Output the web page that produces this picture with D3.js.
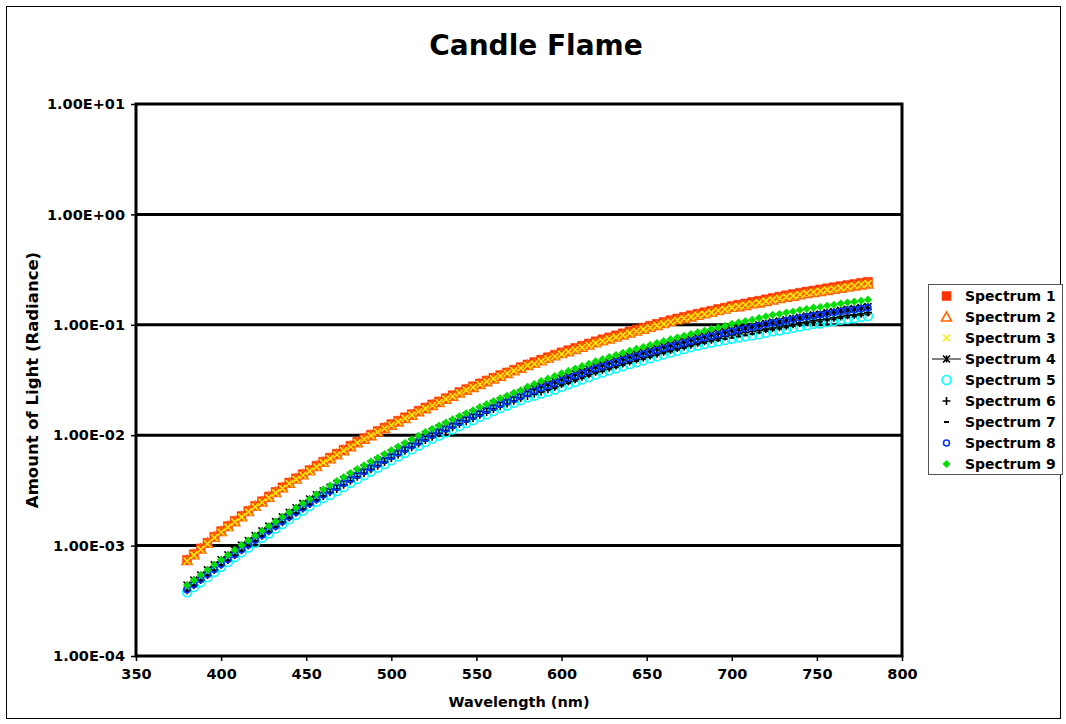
<!DOCTYPE html>
<html>
<head>
<meta charset="utf-8">
<script src="https://cdn.jsdelivr.net/npm/d3@7"></script>
<style>
  html, body { margin: 0; padding: 0; background: #fff; }
  svg { display: block; }
  text { font-family: "DejaVu Sans", Verdana, sans-serif; font-weight: bold; fill: #000; }
</style>
</head>
<body>
<svg id="chart" width="1066" height="724"></svg>
<script>
// ---------------- DATA ----------------
const title = "Candle Flame";
const xTitle = "Wavelength (nm)";
const yTitle = "Amount of Light (Radiance)";

const wavelengths = [
  380,384,388,392,396, 400,404,408,412,416, 420,424,428,432,436, 440,444,448,452,456,
  460,464,468,472,476, 480,484,488,492,496, 500,504,508,512,516, 520,524,528,532,536,
  540,544,548,552,556, 560,564,568,572,576, 580,584,588,592,596, 600,604,608,612,616,
  620,624,628,632,636, 640,644,648,652,656, 660,664,668,672,676, 680,684,688,692,696,
  700,704,708,712,716, 720,724,728,732,736, 740,744,748,752,756, 760,764,768,772,776,
  780];

const spectrum1 = [
  7.41e-4, 8.36e-4, 9.42e-4, 1.06e-3, 1.20e-3,
  1.35e-3, 1.50e-3, 1.67e-3, 1.85e-3, 2.06e-3,
  2.29e-3, 2.52e-3, 2.78e-3, 3.06e-3, 3.37e-3,
  3.72e-3, 4.06e-3, 4.43e-3, 4.83e-3, 5.27e-3,
  5.75e-3, 6.25e-3, 6.79e-3, 7.38e-3, 8.02e-3,
  8.71e-3, 9.38e-3, 1.01e-2, 1.09e-2, 1.17e-2,
  1.26e-2, 1.35e-2, 1.45e-2, 1.55e-2, 1.66e-2,
  1.78e-2, 1.90e-2, 2.02e-2, 2.16e-2, 2.30e-2,
  2.46e-2, 2.61e-2, 2.77e-2, 2.94e-2, 3.12e-2,
  3.31e-2, 3.50e-2, 3.70e-2, 3.91e-2, 4.13e-2,
  4.37e-2, 4.59e-2, 4.83e-2, 5.08e-2, 5.35e-2,
  5.62e-2, 5.89e-2, 6.17e-2, 6.46e-2, 6.76e-2,
  7.08e-2, 7.38e-2, 7.69e-2, 8.02e-2, 8.36e-2,
  8.71e-2, 9.06e-2, 9.42e-2, 9.80e-2, 0.102,
  0.106, 0.110, 0.114, 0.118, 0.122,
  0.126, 0.130, 0.134, 0.139, 0.143,
  0.148, 0.152, 0.156, 0.161, 0.165,
  0.170, 0.175, 0.180, 0.185, 0.190,
  0.195, 0.200, 0.204, 0.209, 0.214,
  0.219, 0.224, 0.229, 0.234, 0.240,
  0.245];

const spectrum2 = [
  7.34e-4, 8.28e-4, 9.33e-4, 1.05e-3, 1.19e-3,
  1.34e-3, 1.49e-3, 1.65e-3, 1.83e-3, 2.04e-3,
  2.27e-3, 2.49e-3, 2.75e-3, 3.03e-3, 3.34e-3,
  3.68e-3, 4.02e-3, 4.39e-3, 4.78e-3, 5.22e-3,
  5.69e-3, 6.13e-3, 6.65e-3, 7.23e-3, 7.86e-3,
  8.54e-3, 9.19e-3, 9.90e-3, 1.07e-2, 1.15e-2,
  1.23e-2, 1.32e-2, 1.42e-2, 1.52e-2, 1.63e-2,
  1.74e-2, 1.86e-2, 1.98e-2, 2.12e-2, 2.25e-2,
  2.41e-2, 2.56e-2, 2.71e-2, 2.88e-2, 3.06e-2,
  3.24e-2, 3.43e-2, 3.63e-2, 3.83e-2, 4.05e-2,
  4.28e-2, 4.50e-2, 4.73e-2, 4.98e-2, 5.24e-2,
  5.51e-2, 5.71e-2, 5.98e-2, 6.27e-2, 6.56e-2,
  6.87e-2, 7.16e-2, 7.46e-2, 7.78e-2, 8.11e-2,
  8.45e-2, 8.79e-2, 9.14e-2, 9.51e-2, 9.89e-2,
  0.103, 0.107, 0.111, 0.114, 0.118,
  0.122, 0.126, 0.130, 0.135, 0.139,
  0.144, 0.146, 0.150, 0.155, 0.158,
  0.163, 0.168, 0.173, 0.178, 0.182,
  0.187, 0.192, 0.196, 0.201, 0.205,
  0.210, 0.215, 0.220, 0.225, 0.230,
  0.235];

const spectrum3 = [
  7.26e-4, 8.19e-4, 9.23e-4, 1.04e-3, 1.18e-3,
  1.32e-3, 1.47e-3, 1.64e-3, 1.81e-3, 2.02e-3,
  2.24e-3, 2.47e-3, 2.72e-3, 3.00e-3, 3.30e-3,
  3.65e-3, 3.98e-3, 4.34e-3, 4.73e-3, 5.16e-3,
  5.64e-3, 6.13e-3, 6.65e-3, 7.23e-3, 7.86e-3,
  8.54e-3, 9.19e-3, 9.90e-3, 1.07e-2, 1.15e-2,
  1.23e-2, 1.32e-2, 1.42e-2, 1.52e-2, 1.63e-2,
  1.74e-2, 1.86e-2, 1.98e-2, 2.12e-2, 2.25e-2,
  2.41e-2, 2.56e-2, 2.71e-2, 2.88e-2, 3.06e-2,
  3.24e-2, 3.43e-2, 3.63e-2, 3.83e-2, 4.05e-2,
  4.28e-2, 4.43e-2, 4.66e-2, 4.90e-2, 5.16e-2,
  5.42e-2, 5.68e-2, 5.95e-2, 6.23e-2, 6.52e-2,
  6.83e-2, 7.12e-2, 7.42e-2, 7.74e-2, 8.06e-2,
  8.41e-2, 8.74e-2, 9.09e-2, 9.46e-2, 9.83e-2,
  0.102, 0.106, 0.110, 0.114, 0.118,
  0.122, 0.125, 0.129, 0.134, 0.138,
  0.143, 0.147, 0.151, 0.155, 0.159,
  0.164, 0.169, 0.174, 0.179, 0.183,
  0.188, 0.193, 0.197, 0.202, 0.207,
  0.211, 0.216, 0.221, 0.226, 0.232,
  0.236];

const spectrum4 = [
  4.38e-4, 4.87e-4, 5.41e-4, 6.02e-4, 6.69e-4,
  7.44e-4, 8.23e-4, 9.11e-4, 1.01e-3, 1.11e-3,
  1.23e-3, 1.36e-3, 1.50e-3, 1.65e-3, 1.82e-3,
  2.00e-3, 2.20e-3, 2.41e-3, 2.64e-3, 2.89e-3,
  3.12e-3, 3.38e-3, 3.64e-3, 3.96e-3, 4.30e-3,
  4.68e-3, 5.05e-3, 5.47e-3, 5.91e-3, 6.39e-3,
  6.91e-3, 7.46e-3, 8.05e-3, 8.68e-3, 9.36e-3,
  1.01e-2, 1.08e-2, 1.16e-2, 1.23e-2, 1.32e-2,
  1.41e-2, 1.50e-2, 1.59e-2, 1.70e-2, 1.81e-2,
  1.93e-2, 2.04e-2, 2.16e-2, 2.29e-2, 2.42e-2,
  2.53e-2, 2.66e-2, 2.78e-2, 2.92e-2, 3.08e-2,
  3.26e-2, 3.42e-2, 3.60e-2, 3.79e-2, 3.98e-2,
  4.19e-2, 4.38e-2, 4.58e-2, 4.77e-2, 4.99e-2,
  5.21e-2, 5.43e-2, 5.65e-2, 5.89e-2, 6.13e-2,
  6.39e-2, 6.62e-2, 6.87e-2, 7.12e-2, 7.39e-2,
  7.68e-2, 7.92e-2, 8.21e-2, 8.48e-2, 8.77e-2,
  8.98e-2, 9.22e-2, 9.44e-2, 9.70e-2, 0.100,
  0.103, 0.106, 0.108, 0.111, 0.114,
  0.117, 0.120, 0.123, 0.125, 0.129,
  0.132, 0.135, 0.138, 0.140, 0.143,
  0.146];

const spectrum5 = [
  3.78e-4, 4.21e-4, 4.67e-4, 5.20e-4, 5.78e-4,
  6.42e-4, 7.11e-4, 7.87e-4, 8.70e-4, 9.60e-4,
  1.06e-3, 1.18e-3, 1.29e-3, 1.43e-3, 1.57e-3,
  1.73e-3, 1.90e-3, 2.08e-3, 2.28e-3, 2.50e-3,
  2.70e-3, 2.88e-3, 3.13e-3, 3.40e-3, 3.70e-3,
  4.02e-3, 4.34e-3, 4.70e-3, 5.08e-3, 5.49e-3,
  5.94e-3, 6.41e-3, 6.92e-3, 7.46e-3, 8.05e-3,
  8.68e-3, 9.29e-3, 9.94e-3, 1.06e-2, 1.13e-2,
  1.21e-2, 1.29e-2, 1.37e-2, 1.46e-2, 1.55e-2,
  1.66e-2, 1.76e-2, 1.86e-2, 1.97e-2, 2.08e-2,
  2.21e-2, 2.29e-2, 2.39e-2, 2.49e-2, 2.60e-2,
  2.75e-2, 2.90e-2, 3.04e-2, 3.20e-2, 3.37e-2,
  3.55e-2, 3.70e-2, 3.87e-2, 4.04e-2, 4.22e-2,
  4.41e-2, 4.59e-2, 4.78e-2, 4.98e-2, 5.18e-2,
  5.40e-2, 5.61e-2, 5.82e-2, 6.03e-2, 6.26e-2,
  6.49e-2, 6.71e-2, 6.90e-2, 7.09e-2, 7.29e-2,
  7.49e-2, 7.67e-2, 7.86e-2, 8.04e-2, 8.23e-2,
  8.48e-2, 8.74e-2, 8.90e-2, 9.16e-2, 9.41e-2,
  9.66e-2, 9.91e-2, 0.102, 0.103, 0.106,
  0.108, 0.111, 0.113, 0.115, 0.118,
  0.120];

const spectrum6 = [
  3.94e-4, 4.39e-4, 4.87e-4, 5.42e-4, 6.02e-4,
  6.69e-4, 7.41e-4, 8.20e-4, 9.07e-4, 1.00e-3,
  1.11e-3, 1.23e-3, 1.35e-3, 1.49e-3, 1.63e-3,
  1.80e-3, 1.98e-3, 2.17e-3, 2.38e-3, 2.60e-3,
  2.82e-3, 3.04e-3, 3.26e-3, 3.55e-3, 3.86e-3,
  4.20e-3, 4.53e-3, 4.91e-3, 5.30e-3, 5.73e-3,
  6.20e-3, 6.69e-3, 7.22e-3, 7.79e-3, 8.40e-3,
  9.06e-3, 9.70e-3, 1.04e-2, 1.10e-2, 1.18e-2,
  1.27e-2, 1.34e-2, 1.43e-2, 1.53e-2, 1.62e-2,
  1.73e-2, 1.83e-2, 1.94e-2, 2.05e-2, 2.17e-2,
  2.26e-2, 2.38e-2, 2.48e-2, 2.61e-2, 2.75e-2,
  2.91e-2, 3.06e-2, 3.22e-2, 3.39e-2, 3.56e-2,
  3.75e-2, 3.92e-2, 4.09e-2, 4.27e-2, 4.46e-2,
  4.66e-2, 4.85e-2, 5.05e-2, 5.26e-2, 5.48e-2,
  5.71e-2, 5.92e-2, 6.15e-2, 6.37e-2, 6.61e-2,
  6.86e-2, 7.09e-2, 7.34e-2, 7.58e-2, 7.84e-2,
  8.10e-2, 8.30e-2, 8.51e-2, 8.70e-2, 8.92e-2,
  9.14e-2, 9.36e-2, 9.54e-2, 9.81e-2, 0.101,
  0.104, 0.106, 0.109, 0.111, 0.113,
  0.116, 0.119, 0.122, 0.123, 0.126,
  0.129];

const spectrum7 = [
  3.86e-4, 4.30e-4, 4.77e-4, 5.31e-4, 5.90e-4,
  6.56e-4, 7.26e-4, 8.03e-4, 8.89e-4, 9.80e-4,
  1.09e-3, 1.20e-3, 1.32e-3, 1.46e-3, 1.60e-3,
  1.77e-3, 1.94e-3, 2.12e-3, 2.33e-3, 2.55e-3,
  2.76e-3, 2.98e-3, 3.20e-3, 3.48e-3, 3.78e-3,
  4.11e-3, 4.44e-3, 4.80e-3, 5.19e-3, 5.61e-3,
  6.07e-3, 6.55e-3, 7.07e-3, 7.62e-3, 8.23e-3,
  8.87e-3, 9.49e-3, 1.02e-2, 1.08e-2, 1.16e-2,
  1.24e-2, 1.32e-2, 1.40e-2, 1.49e-2, 1.59e-2,
  1.69e-2, 1.80e-2, 1.90e-2, 2.01e-2, 2.12e-2,
  2.26e-2, 2.35e-2, 2.46e-2, 2.56e-2, 2.66e-2,
  2.82e-2, 2.96e-2, 3.11e-2, 3.28e-2, 3.45e-2,
  3.63e-2, 3.79e-2, 3.96e-2, 4.13e-2, 4.32e-2,
  4.51e-2, 4.70e-2, 4.89e-2, 5.09e-2, 5.30e-2,
  5.53e-2, 5.73e-2, 5.95e-2, 6.17e-2, 6.40e-2,
  6.64e-2, 6.86e-2, 7.10e-2, 7.25e-2, 7.46e-2,
  7.66e-2, 7.85e-2, 8.05e-2, 8.27e-2, 8.53e-2,
  8.79e-2, 9.05e-2, 9.22e-2, 9.48e-2, 9.74e-2,
  0.100, 0.103, 0.105, 0.107, 0.110,
  0.112, 0.115, 0.117, 0.119, 0.122,
  0.124];

const spectrum8 = [
  3.98e-4, 4.43e-4, 4.92e-4, 5.47e-4, 6.08e-4,
  6.76e-4, 7.48e-4, 8.28e-4, 9.16e-4, 1.01e-3,
  1.12e-3, 1.24e-3, 1.36e-3, 1.50e-3, 1.65e-3,
  1.82e-3, 2.00e-3, 2.19e-3, 2.40e-3, 2.63e-3,
  2.88e-3, 3.13e-3, 3.40e-3, 3.70e-3, 4.02e-3,
  4.37e-3, 4.72e-3, 5.11e-3, 5.52e-3, 5.97e-3,
  6.46e-3, 6.97e-3, 7.52e-3, 8.11e-3, 8.75e-3,
  9.44e-3, 1.01e-2, 1.08e-2, 1.15e-2, 1.23e-2,
  1.32e-2, 1.40e-2, 1.49e-2, 1.59e-2, 1.69e-2,
  1.80e-2, 1.91e-2, 2.02e-2, 2.14e-2, 2.26e-2,
  2.40e-2, 2.53e-2, 2.67e-2, 2.81e-2, 2.96e-2,
  3.13e-2, 3.29e-2, 3.46e-2, 3.64e-2, 3.83e-2,
  4.03e-2, 4.21e-2, 4.40e-2, 4.59e-2, 4.80e-2,
  5.01e-2, 5.22e-2, 5.43e-2, 5.66e-2, 5.89e-2,
  6.14e-2, 6.37e-2, 6.61e-2, 6.85e-2, 7.11e-2,
  7.38e-2, 7.62e-2, 7.89e-2, 8.15e-2, 8.43e-2,
  8.71e-2, 8.97e-2, 9.25e-2, 9.51e-2, 9.80e-2,
  0.101, 0.104, 0.106, 0.109, 0.112,
  0.115, 0.118, 0.121, 0.123, 0.126,
  0.129, 0.132, 0.135, 0.137, 0.140,
  0.143];

const spectrum9 = [
  4.38e-4, 4.87e-4, 5.41e-4, 6.02e-4, 6.69e-4,
  7.44e-4, 8.23e-4, 9.11e-4, 1.01e-3, 1.11e-3,
  1.23e-3, 1.36e-3, 1.50e-3, 1.65e-3, 1.82e-3,
  2.00e-3, 2.20e-3, 2.41e-3, 2.64e-3, 2.91e-3,
  3.22e-3, 3.50e-3, 3.84e-3, 4.18e-3, 4.54e-3,
  4.94e-3, 5.33e-3, 5.77e-3, 6.24e-3, 6.75e-3,
  7.30e-3, 7.88e-3, 8.50e-3, 9.16e-3, 9.89e-3,
  1.07e-2, 1.14e-2, 1.22e-2, 1.30e-2, 1.39e-2,
  1.49e-2, 1.58e-2, 1.68e-2, 1.80e-2, 1.91e-2,
  2.03e-2, 2.16e-2, 2.28e-2, 2.42e-2, 2.55e-2,
  2.75e-2, 2.91e-2, 3.10e-2, 3.26e-2, 3.43e-2,
  3.63e-2, 3.82e-2, 4.01e-2, 4.22e-2, 4.44e-2,
  4.67e-2, 4.88e-2, 5.10e-2, 5.32e-2, 5.57e-2,
  5.81e-2, 6.06e-2, 6.30e-2, 6.57e-2, 6.83e-2,
  7.12e-2, 7.39e-2, 7.67e-2, 7.95e-2, 8.25e-2,
  8.56e-2, 8.84e-2, 9.15e-2, 9.45e-2, 9.78e-2,
  0.102, 0.105, 0.108, 0.111, 0.115,
  0.119, 0.123, 0.125, 0.129, 0.132,
  0.136, 0.139, 0.143, 0.145, 0.149,
  0.152, 0.156, 0.159, 0.162, 0.165,
  0.169];

const seriesNames = ["Spectrum 1","Spectrum 2","Spectrum 3","Spectrum 4","Spectrum 5",
                     "Spectrum 6","Spectrum 7","Spectrum 8","Spectrum 9"];
const seriesValues = [spectrum1, spectrum2, spectrum3, spectrum4, spectrum5,
                      spectrum6, spectrum7, spectrum8, spectrum9];

const xTicks = [350, 400, 450, 500, 550, 600, 650, 700, 750, 800];
const yTicks = [1e-4, 1e-3, 1e-2, 1e-1, 1, 10];
const yTickLabels = ["1.00E-04","1.00E-03","1.00E-02","1.00E-01","1.00E+00","1.00E+01"];

// ---------------- STYLE ----------------
const seriesStyle = [
  {shape: "square",   color: "#ff3300", r: 4.5, fill: true},
  {shape: "triangle", color: "#ff6600", r: 5,   fill: false},
  {shape: "cross",    color: "#ffee00", r: 3.5, fill: false},
  {shape: "star",     color: "#000000", r: 3.5, fill: false, line: true},
  {shape: "circle",   color: "#00ffff", r: 4.5, fill: false},
  {shape: "plus",     color: "#000000", r: 4,   fill: false},
  {shape: "dash",     color: "#000000", r: 2.5, fill: false},
  {shape: "circle",   color: "#0033ff", r: 3,   fill: false},
  {shape: "diamond",  color: "#00dd00", r: 3.8, fill: true}
];

function markerPath(shape, r) {
  switch (shape) {
    case "square":   return `M${-r},${-r}H${r}V${r}H${-r}Z`;
    case "triangle": return `M0,${-r}L${r},${r*0.8}L${-r},${r*0.8}Z`;
    case "cross":    return `M${-r},${-r}L${r},${r}M${-r},${r}L${r},${-r}`;
    case "star":     return `M${-r},${-r}L${r},${r}M${-r},${r}L${r},${-r}M0,${-r}V${r}`;
    case "circle":   return `M${r},0A${r},${r} 0 1,1 ${-r},0A${r},${r} 0 1,1 ${r},0Z`;
    case "plus":     return `M${-r},0H${r}M0,${-r}V${r}`;
    case "dash":     return `M${-r},0H${r}`;
    case "diamond":  return `M0,${-r}L${r},0L0,${r}L${-r},0Z`;
  }
}
function styleMarker(sel, st) {
  sel.attr("d", markerPath(st.shape, st.r))
     .attr("fill", st.fill ? st.color : "none")
     .attr("stroke", st.color)
     .attr("stroke-width", st.fill ? 0.5 : (st.shape === "dash" ? 2 : 1.6));
}

// ---------------- LAYOUT ----------------
const svg = d3.select("#chart");
const W = 1066, H = 724;
const plot = {left: 136, right: 902, top: 104, bottom: 656};

svg.append("rect").attr("x", 6.5).attr("y", 6.5).attr("width", W - 12).attr("height", H - 12)
   .attr("fill", "#fff").attr("stroke", "#000").attr("stroke-width", 1);

const x = d3.scaleLinear().domain([350, 800]).range([plot.left, plot.right]);
const y = d3.scaleLog().domain([1e-4, 10]).range([plot.bottom, plot.top]);

// gridlines
svg.append("g").selectAll("line").data(yTicks.slice(1, -1)).join("line")
  .attr("x1", plot.left).attr("x2", plot.right)
  .attr("y1", d => y(d)).attr("y2", d => y(d))
  .attr("stroke", "#000").attr("stroke-width", 3);

// axes
const yAxis = svg.append("g").attr("transform", `translate(${plot.left},0)`)
  .call(d3.axisLeft(y).tickValues(yTicks).tickFormat((d, i) => yTickLabels[i]).tickSize(5).tickPadding(6));
const xAxis = svg.append("g").attr("transform", `translate(0,${plot.bottom})`)
  .call(d3.axisBottom(x).tickValues(xTicks).tickFormat(d3.format("d")).tickSize(5).tickPadding(8));
[yAxis, xAxis].forEach(a => {
  a.select(".domain").remove();
  a.selectAll(".tick line").attr("stroke", "#000").attr("stroke-width", 1.5);
  a.selectAll(".tick text").style("font-size", "14.5px").style("font-family", "DejaVu Sans")
   .style("font-weight", "bold").attr("fill", "#000");
});

// series
seriesValues.forEach((vals, si) => {
  const st = seriesStyle[si];
  const pts = wavelengths.map((w, i) => [w, vals[i]]);
  const g = svg.append("g");
  if (st.line) {
    g.append("path").datum(pts)
      .attr("d", d3.line().x(d => x(d[0])).y(d => y(d[1])))
      .attr("fill", "none").attr("stroke", st.color).attr("stroke-width", 1);
  }
  g.selectAll("path.m").data(pts).join("path").attr("class", "m")
    .attr("transform", d => `translate(${x(d[0])},${y(d[1])})`)
    .call(styleMarker, st);
});

// plot frame
svg.append("rect").attr("x", plot.left).attr("y", plot.top)
  .attr("width", plot.right - plot.left).attr("height", plot.bottom - plot.top)
  .attr("fill", "none").attr("stroke", "#000").attr("stroke-width", 3);

// titles
svg.append("text").attr("x", 536).attr("y", 55).attr("text-anchor", "middle")
  .style("font-size", "28px").text(title);
svg.append("text").attr("x", (plot.left + plot.right) / 2).attr("y", 707).attr("text-anchor", "middle")
  .style("font-size", "14.5px").text(xTitle);
svg.append("text").attr("transform", `translate(38,${(plot.top + plot.bottom) / 2}) rotate(-90)`)
  .attr("text-anchor", "middle").style("font-size", "16.5px").text(yTitle);

// legend
const leg = svg.append("g");
leg.append("rect").attr("x", 928.5).attr("y", 284.5).attr("width", 134).attr("height", 190)
  .attr("fill", "#fff").attr("stroke", "#555").attr("stroke-width", 1);
seriesNames.forEach((name, i) => {
  const st = seriesStyle[i];
  const cy = 296 + i * 21;
  if (st.line) {
    leg.append("line").attr("x1", 932).attr("x2", 961).attr("y1", cy).attr("y2", cy)
      .attr("stroke", st.color).attr("stroke-width", 1);
  }
  leg.append("path").attr("transform", `translate(946.5,${cy})`).call(styleMarker, st);
  leg.append("text").attr("x", 965).attr("y", cy).attr("dy", "0.36em")
    .style("font-size", "14px").text(name);
});
</script>
</body>
</html>
